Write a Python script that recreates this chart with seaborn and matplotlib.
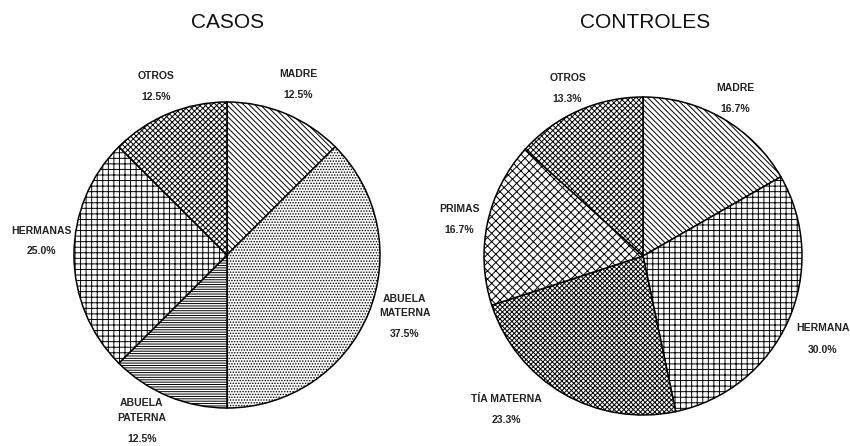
import numpy as np
import matplotlib
matplotlib.use("Agg")
import matplotlib.pyplot as plt
import seaborn as sns

sns.set_theme(style="white")
plt.rcParams['font.family'] = ['Liberation Sans', 'DejaVu Sans']
plt.rcParams['hatch.linewidth'] = 0.7
plt.rcParams['hatch.color'] = 'black'

# ---- data ----
casos_labels = ["MADRE", "ABUELA\nMATERNA", "ABUELA\nPATERNA", "HERMANAS", "OTROS"]
casos_values = [12.5, 37.5, 12.5, 25.0, 12.5]
controles_labels = ["MADRE", "HERMANA", "TÍA MATERNA", "PRIMAS", "OTROS"]
controles_values = [16.7, 30.0, 23.3, 16.7, 13.3]

# ---- style ----
casos_hatches = ['\\\\\\\\\\\\', '......', '-------', '+++', 'xxxxxx']
casos_hcolors = ['black', '#333333', 'black', 'black', '#666666']
controles_hatches = ['\\\\\\\\\\\\', '+++', 'XXXXXXX', 'xxxx', 'xxxxxx']
controles_hcolors = ['black', 'black', 'black', 'black', '#666666']
casos_dist = [1.22, 1.24, 1.25, 1.22, 1.21]
casos_rot = [0, 2, -4, -5, 0]
controles_dist = [1.16, 1.24, 1.28, 1.18, 1.17]
controles_rot = [0, 0, -12, 0, 0]

fig = plt.figure(figsize=(8.5, 4.46), dpi=100)


def draw(rect, labels, values, hatches, hcolors, dists, rots, title, title_x):
    ax = fig.add_axes(rect)
    wedges, _ = ax.pie(values, startangle=90, counterclock=False,
                       colors=['white'] * len(values),
                       wedgeprops=dict(edgecolor='black', linewidth=1.1))
    for w, h, hc in zip(wedges, hatches, hcolors):
        w.set_hatch(h)
        if hasattr(w, 'set_hatchcolor'):
            w.set_hatchcolor(hc)
    ax.set_xlim(-1, 1)
    ax.set_ylim(-1, 1)
    ax.set_aspect('auto')
    ax.axis('off')
    for w, lab, v, d, r in zip(wedges, labels, values, dists, rots):
        ang = np.deg2rad((w.theta1 + w.theta2) / 2 + r)
        x, y = d * np.cos(ang), d * np.sin(ang)
        ax.text(x, y + 0.02, lab, ha='center', va='bottom', fontsize=7.5,
                fontweight='bold', linespacing=1.6, clip_on=False, color='#222222')
        ax.text(x, y - 0.05, f"{v:.1f}%", ha='center', va='top', fontsize=7.5,
                fontweight='bold', clip_on=False, color='#222222')
    fig.text(title_x, 1 - 22 / 446, title, ha='center', va='center',
             fontsize=15, color='#111111')


draw([74 / 850, 38 / 446, 306 / 850, 306 / 446], casos_labels, casos_values,
     casos_hatches, casos_hcolors, casos_dist, casos_rot, "CASOS", 228 / 850)
draw([484 / 850, 31 / 446, 318 / 850, 318 / 446], controles_labels, controles_values,
     controles_hatches, controles_hcolors, controles_dist, controles_rot, "CONTROLES", 645 / 850)

fig.savefig("out.png", dpi=100, facecolor='white')
